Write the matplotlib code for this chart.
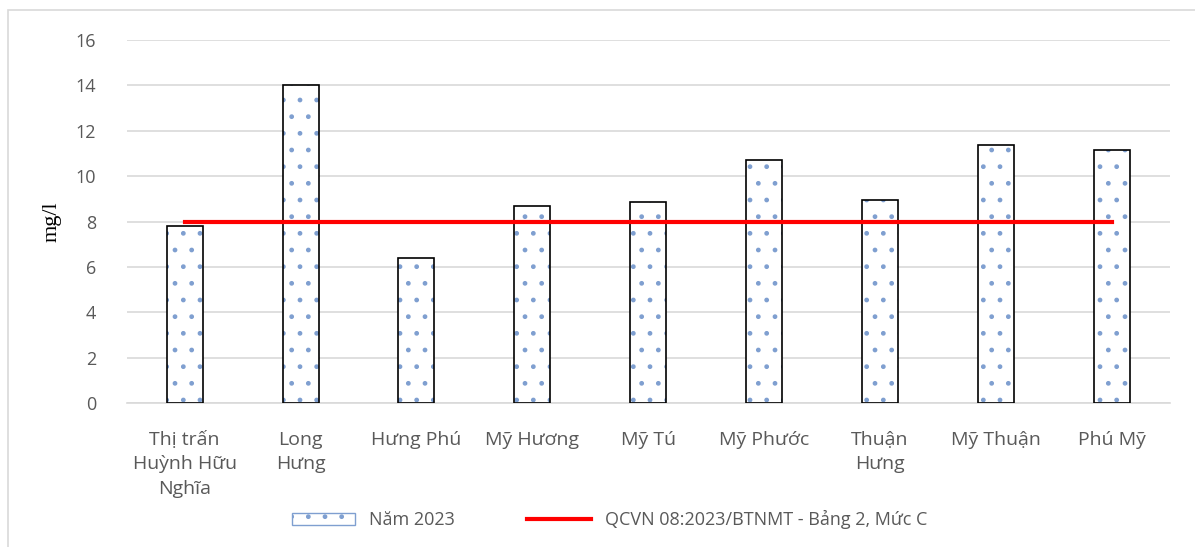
import matplotlib.pyplot as plt
from matplotlib.patches import Patch, Rectangle
from matplotlib.lines import Line2D
import numpy as np

# data
stations = ["Thị trấn\nHuỳnh Hữu\nNghĩa", "Long\nHưng", "Hưng Phú", "Mỹ Hương",
            "Mỹ Tú", "Mỹ Phước", "Thuận\nHưng", "Mỹ Thuận", "Phú Mỹ"]
values_2023 = [7.8, 14.0, 6.4, 8.7, 8.85, 10.7, 8.95, 11.35, 11.15]
limit_value = 8
yticks = [0, 2, 4, 6, 8, 10, 12, 14, 16]

plt.rcParams['font.family'] = ['Open Sans', 'DejaVu Sans']
grey_text = '#595959'

fig = plt.figure(figsize=(11.95, 5.47), dpi=100)
ax = fig.add_axes([0.106, 0.263, 0.873, 0.664])

x = np.arange(len(stations))
# hatch layer (blue dots) then black outline on top
ax.bar(x, values_2023, width=0.31, color='white', edgecolor='#7f9fd0',
       hatch='.', linewidth=0, zorder=2)
ax.bar(x, values_2023, width=0.31, fill=False, edgecolor='black',
       linewidth=1.2, zorder=3)
ax.plot(x, [limit_value] * len(x), color='#ff0000', linewidth=3, zorder=4)

ax.set_xlim(-0.5, len(stations) - 0.5)
ax.set_ylim(0, 16)
ax.set_yticks(yticks)
ax.set_xticks(x)
ax.set_xticklabels(stations, fontsize=14, color=grey_text, linespacing=1.45)
ax.tick_params(axis='y', labelsize=13, labelcolor=grey_text, length=0, pad=22)
ax.tick_params(axis='x', length=0, pad=20)
ax.grid(axis='y', color='#d9d9d9', linewidth=1.2, zorder=0)
ax.set_axisbelow(True)
for s in ['top', 'right', 'left']:
    ax.spines[s].set_visible(False)
ax.spines['bottom'].set_color('#d9d9d9')
ax.spines['bottom'].set_linewidth(1.2)

ax.set_ylabel('mg/l', family='Liberation Serif', fontsize=16, color='black', labelpad=10)

handles = [Patch(facecolor='white', edgecolor='#7f9fd0', hatch='.', label='Năm 2023'),
           Line2D([0], [0], color='#ff0000', linewidth=3, label='QCVN 08:2023/BTNMT - Bảng 2, Mức C')]
fig.legend(handles=handles, loc='center', bbox_to_anchor=(0.51, 0.05), ncol=2,
           frameon=False, fontsize=13, labelcolor=grey_text, columnspacing=4,
           handlelength=3.5)

# light frame around the chart
fig.patches.append(Rectangle((0.007, -0.01), 1.0, 0.992, transform=fig.transFigure,
                             fill=False, edgecolor='#d9d9d9', linewidth=1.2))

fig.savefig('out.png', dpi=100)
